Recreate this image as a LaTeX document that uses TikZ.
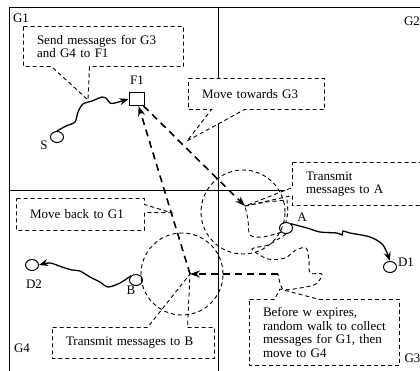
\documentclass[tikz,border=0pt]{standalone}
\usepackage{fontspec}
\setmainfont{Liberation Serif}
\usetikzlibrary{arrows.meta,calc,shapes.geometric,backgrounds}

\begin{document}
\begin{tikzpicture}[x=1pt, y=-1pt, line width=1pt,
font=\fontsize{13}{13.5}\selectfont,
box/.style = {inner xsep=13pt, inner ysep=0pt, align=left},
callout/.style = {draw, fill=white, line width=0.9pt, dash pattern=on 4pt off 3pt},
host/.style = {draw, ellipse, line width=1pt, minimum width=13pt, minimum height=11pt, inner sep=0pt},
walk/.style = {line width=1.3pt, -{Stealth[length=9pt, width=7pt]}},
ferry/.style = {line width=1.6pt, dash pattern=on 7pt off 5pt, -{Stealth[length=10pt, width=7pt]}},
reach/.style = {line width=0.9pt, dash pattern=on 4pt off 3pt}]

\path[use as bounding box, clip] (0,0) rectangle (420,370);

% group labels
\node (g1) at (21,18) {G1};
\node (g2) at (412,21) {G2};
\node (g4) at (22,348) {G4};
\node[anchor=west, inner sep=0pt] (g3) at (404,358) {G3};

% nodes
\node[host] (S) at (57,137) {};
\node[host] (A) at (286,228) {};
\node[host] (B) at (136,280) {};
\node[host] (D1) at (390,267) {};
\node[host] (D2) at (32,265) {};
\node[draw, line width=1pt, minimum width=15pt, minimum height=13pt, inner sep=0pt] (F1) at (136.5,99) {};

\node (slbl) at (44,145) {S};
\node (albl) at (302,217) {A};
\node (blbl) at (131,290) {B};
\node (d1lbl) at (406,262) {D1};
\node (d2lbl) at (34,284) {D2};
\node (f1lbl) at (137,80) {F1};

% ferry stops
\coordinate (fa) at (245,206);
\coordinate (fb) at (190,274);
\coordinate (turn) at (278,274);
\coordinate (tipS) at (88,100);
\coordinate (tipT) at (187,141);
\coordinate (tipK) at ($(fb)!0.35!(F1.center)$);
\coordinate (tipW) at (280,289);

% notes
\node[box, text width=133pt, minimum height=39pt] (send) at (103.5,46.5) {Send messages for G3\\and G4 to F1};
\node[box, text width=109pt, minimum height=30pt] (towards) at (256.5,94) {Move towards G3};
\node[box, text width=106pt, minimum height=42pt] (transA) at (359,184) {Transmit\\messages to A};
\node[box, text width=101pt, minimum height=31pt] (back) at (80.5,214.5) {Move back to G1};
\node[box, text width=135pt, minimum height=30pt] (transB) at (133.5,343) {Transmit messages to B};
\node[box, text width=123pt, minimum height=65pt] (before) at (324.5,332.5) {Before w expires,\\random walk to collect\\messages for G1, then\\move to G4};

\begin{scope}[on background layer]
% grid of groups
\draw (9,7) -- (430,7);
\draw (9,7) -- (9,380);
\draw (218,7) -- (218,380);
\draw (9,190) -- (430,190);

\draw[callout] (send.north west) -- (send.north east) -- (send.south east)
-- ($(send.south west)+(66,0)$) -- (tipS) -- ($(send.south west)+(28,0)$) -- (send.south west) -- cycle;
\draw[callout] (towards.north west) -- (towards.north east) -- (towards.south east)
-- ($(towards.south west)+(56,0)$) -- (tipT) -- ($(towards.south west)+(23,0)$) -- (towards.south west) -- cycle;
\draw[callout] (transA.north west) -- (transA.north east) -- (transA.south east) -- (transA.south west)
-- ($(transA.north west)+(0,33)$) -- (fa) -- ($(transA.north west)+(0,25)$) -- cycle;
\draw[callout] (back.north west) -- (back.north east) -- ($(back.north east)+(0,6)$) -- (tipK)
-- ($(back.north east)+(0,14)$) -- (back.south east) -- (back.south west) -- cycle;
\draw[callout] (transB.north west) -- ($(transB.north west)+(95,0)$) -- (fb)
-- ($(transB.north west)+(135,0)$) -- (transB.north east) -- (transB.south east) -- (transB.south west) -- cycle;
\draw[callout] (before.north west) -- ($(before.north west)+(25,0)$) -- (tipW)
-- ($(before.north west)+(70,0)$) -- (before.north east) -- (before.south east) -- (before.south west) -- cycle;
\end{scope}

% ranges of the ferry
\draw[reach] (243,212) circle (42pt);
\draw[reach] (182,274) circle (41pt);

% messages carried by nodes
\draw[walk] plot[smooth] coordinates {(S.north) (66,126) (75,122) (78,112) (83,104) (92,101) (102,97) (106,98) (110,103) (115,103) (F1.west)};
\draw[walk] plot[smooth] coordinates {(B.north west) (120,283) (108,287) (100,282) (90,277) (80,271) (72,270) (62,267) (50,263) (D2.east)};
\draw[walk] plot[smooth] coordinates {(A.north east) (307,228) (320,232) (337,233) (342,235) (343,231) (350,233) (370,237) (383,245) (D1.north)};

% route of F1
\draw[ferry] (F1) -- (fa);
% random walk in G3
\draw[reach] (fa) -- (266,202) -- (287,200) -- (288,212) -- (A.north);
\draw[reach] plot[smooth, tension=0.5] coordinates {(A.south west) (263,237) (250,235) (248,220) (fa)};
\draw[reach] plot[smooth, tension=0.5] coordinates {(A.south) (268,245) (252,249) (268,259) (285,258) (296,250) (306,248) (309,260) (310,273) (322,274) (316,284) (300,288) (283,289) (turn)};
\draw[ferry] (turn) -- (fb);
\draw[ferry] (fb) -- (F1);

\end{tikzpicture}
\end{document}
